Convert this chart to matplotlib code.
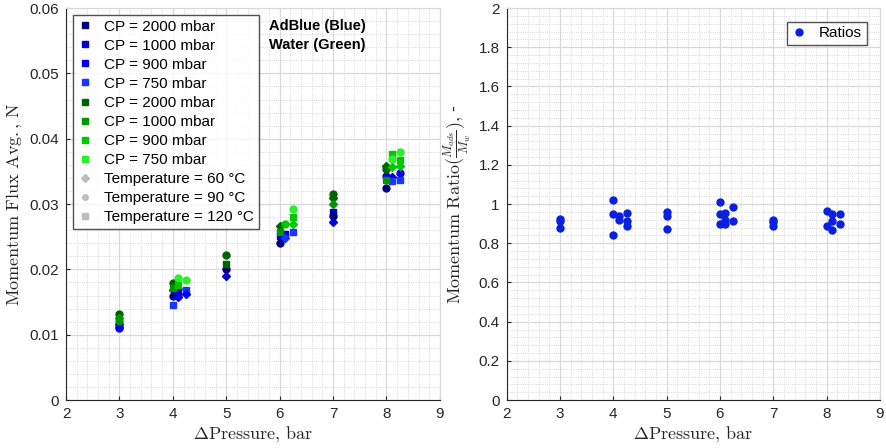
import matplotlib
matplotlib.use('Agg')
import matplotlib.pyplot as plt
from matplotlib.lines import Line2D
from matplotlib.ticker import MultipleLocator

plt.rcParams['font.family'] = ['Liberation Sans', 'DejaVu Sans']
plt.rcParams['mathtext.fontset'] = 'cm'

# --- data ---
cp_levels = [2000, 1000, 900, 750]
temp_levels = [60, 90, 120]
blue_colors = ['#00007f', '#0000c8', '#0000f0', '#1a35ff']
green_colors = ['#006400', '#009600', '#00c800', '#2af02a']
temp_markers = {60: 'D', 90: 'o', 120: 's'}

# AdBlue points: pressure difference, momentum flux, CP (mbar), temperature (C)
blue_dp = [3, 3, 3, 4, 4, 4, 4.1, 4.1, 4.1, 4.25, 4.25, 5, 5,
           6, 6, 6.1, 6.1, 6.25, 7, 7, 7, 8, 8, 8.1, 8.1, 8.25, 8.25]
blue_flux = [0.0117, 0.0112, 0.0110, 0.0169, 0.0160, 0.0145, 0.0170, 0.0161, 0.0157,
             0.0168, 0.0162, 0.0200, 0.0190,
             0.0251, 0.0240, 0.0254, 0.0248, 0.0257, 0.0288, 0.0281, 0.0273,
             0.0343, 0.0325, 0.0342, 0.0336, 0.0348, 0.0337]
blue_cp = [1000, 2000, 900, 1000, 2000, 750, 900, 1000, 900, 750, 900, 2000, 1000,
           900, 2000, 900, 750, 750, 1000, 2000, 1000, 900, 2000, 1000, 750, 900, 750]
blue_temp = [60, 90, 90, 60, 90, 120, 90, 120, 60, 120, 60, 90, 60,
             120, 90, 120, 60, 120, 120, 90, 60, 90, 90, 60, 120, 90, 120]

# Water points
green_dp = [3, 3, 3, 4, 4, 4.1, 4.1, 4.25, 5, 5,
            6, 6, 6.1, 6.25, 6.25, 6.25, 7, 7, 7,
            8, 8, 8, 8.1, 8.1, 8.1, 8.25, 8.25, 8.25]
green_flux = [0.0131, 0.0126, 0.0121, 0.0179, 0.0171, 0.0187, 0.0176, 0.0184, 0.0222, 0.0208,
              0.0266, 0.0257, 0.0270, 0.0292, 0.0280, 0.0270, 0.0316, 0.0309, 0.0300,
              0.0358, 0.0354, 0.0337, 0.0377, 0.0369, 0.0357, 0.0380, 0.0367, 0.0359]
green_cp = [2000, 1000, 1000, 2000, 1000, 750, 900, 750, 2000, 2000,
            2000, 1000, 900, 750, 900, 900, 2000, 2000, 1000,
            2000, 2000, 1000, 900, 750, 900, 750, 900, 900]
green_temp = [90, 60, 90, 90, 120, 90, 120, 90, 90, 120,
              60, 120, 90, 90, 120, 60, 90, 60, 60,
              60, 90, 120, 120, 90, 60, 90, 120, 60]

# momentum ratio (AdBlue / water)
ratio_dp = [3, 3, 3, 4, 4, 4, 4.1, 4.1, 4.25, 4.25, 4.25, 5, 5, 5,
            6, 6, 6, 6.1, 6.1, 6.1, 6.25, 6.25, 7, 7, 7,
            8, 8, 8.1, 8.1, 8.1, 8.25, 8.25]
ratio_val = [0.925, 0.915, 0.879, 1.019, 0.947, 0.842, 0.937, 0.917, 0.954, 0.915, 0.888,
             0.959, 0.940, 0.871, 1.012, 0.947, 0.896, 0.954, 0.920, 0.896, 0.986, 0.915,
             0.920, 0.910, 0.886, 0.964, 0.886, 0.947, 0.915, 0.867, 0.951, 0.900]

fig = plt.figure(figsize=(8.86, 4.48), dpi=100)
ax1 = fig.add_axes([0.0745, 0.107, 0.422, 0.875])
ax2 = fig.add_axes([0.572, 0.107, 0.421, 0.875])


def style_axes(ax):
    ax.grid(True, which='major', color='#d8d8d8', linewidth=0.9, linestyle='-')
    ax.grid(True, which='minor', color='#cccccc', linewidth=0.6, linestyle=':')
    ax.set_axisbelow(True)
    ax.tick_params(which='major', direction='in', length=3, labelsize=11, colors='#262626',
                   top=False, right=False, pad=5)
    ax.tick_params(which='minor', length=0)
    for s in ['left', 'bottom']:
        ax.spines[s].set_color('#262626')
    for s in ['top', 'right']:
        ax.spines[s].set_color('#d8d8d8')
    ax.set_xlim(2, 9)
    ax.xaxis.set_major_locator(MultipleLocator(1))
    ax.xaxis.set_minor_locator(MultipleLocator(0.2))
    ax.set_xlabel(r'$\Delta\mathrm{Pressure{,}\ bar}$', fontsize=13, color='#262626', labelpad=3)


# left panel
for dp, fl, cp, t in zip(blue_dp, blue_flux, blue_cp, blue_temp):
    ax1.plot(dp, fl, linestyle='none', marker=temp_markers[t], markersize=5 if t != 60 else 4,
             color=blue_colors[cp_levels.index(cp)])
for dp, fl, cp, t in zip(green_dp, green_flux, green_cp, green_temp):
    ax1.plot(dp, fl, linestyle='none', marker=temp_markers[t], markersize=5 if t != 60 else 4,
             color=green_colors[cp_levels.index(cp)])

style_axes(ax1)
ax1.set_ylim(0, 0.06)
ax1.yaxis.set_major_locator(MultipleLocator(0.01))
ax1.yaxis.set_minor_locator(MultipleLocator(0.002))
ax1.yaxis.set_major_formatter(matplotlib.ticker.FuncFormatter(lambda v, p: '0' if v == 0 else f'{v:g}'))
ax1.set_ylabel(r'$\mathrm{Momentum\ Flux\ Avg.{,}\ N}$', fontsize=13, color='#262626', labelpad=3)

handles = []
for c, cp in zip(blue_colors + green_colors, cp_levels + cp_levels):
    handles.append(Line2D([], [], linestyle='none', marker='s', markersize=4, color=c,
                          label=f'CP = {cp} mbar'))
for t in temp_levels:
    handles.append(Line2D([], [], linestyle='none', marker=temp_markers[t], markersize=4,
                          color='#bdbdbd', label=f'Temperature = {t} \u00b0C'))
leg1 = ax1.legend(handles=handles, loc='upper left', bbox_to_anchor=(0.018, 0.982),
                  fontsize=11, frameon=True, fancybox=False, edgecolor='#262626',
                  handlelength=1.0, handletextpad=0.75, labelspacing=0.33, borderpad=0.3,
                  borderaxespad=0.0)
leg1.get_frame().set_linewidth(1.0)
ax1.text(0.542, 0.972, 'AdBlue (Blue)\nWater (Green)', transform=ax1.transAxes,
         fontsize=10.5, fontweight='bold', va='top', ha='left', linespacing=1.45)

# right panel
ax2.plot(ratio_dp, ratio_val, linestyle='none', marker='o', markersize=5,
         color='#0a1fe0', label='Ratios')
style_axes(ax2)
ax2.set_ylim(0, 2)
ax2.yaxis.set_major_locator(MultipleLocator(0.2))
ax2.yaxis.set_minor_locator(MultipleLocator(0.04))
ax2.yaxis.set_major_formatter(matplotlib.ticker.FuncFormatter(lambda v, p: f'{v:g}'))
ax2.set_ylabel(r'$\mathrm{Momentum\ Ratio}(\frac{M_{ads}}{M_{w}}){,}\ $-',
               fontsize=13, color='#262626', labelpad=4)
leg2 = ax2.legend(loc='upper right', bbox_to_anchor=(0.985, 0.985), fontsize=11,
                  frameon=True, fancybox=False, edgecolor='#262626', handlelength=1.0,
                  handletextpad=0.8, borderpad=0.3)
leg2.get_frame().set_linewidth(1.0)

fig.savefig('out.png', dpi=100)
plt.close(fig)
